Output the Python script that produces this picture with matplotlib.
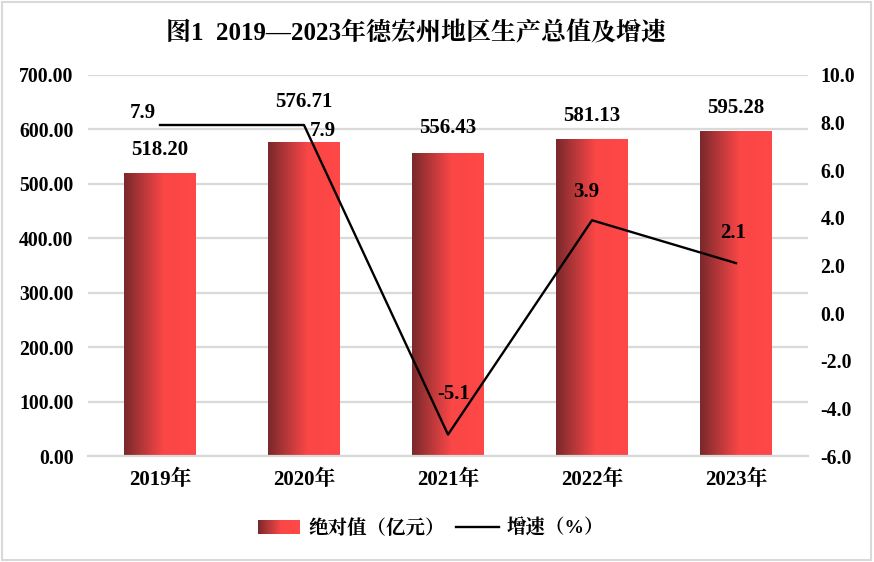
import matplotlib
matplotlib.use('Agg')
import matplotlib.pyplot as plt
import numpy as np
from matplotlib.colors import LinearSegmentedColormap
from matplotlib.legend_handler import HandlerBase
from matplotlib.patches import Rectangle
from matplotlib.lines import Line2D

plt.rcParams['font.family'] = ['Liberation Serif', 'Noto Serif CJK JP', 'DejaVu Sans']
plt.rcParams['font.weight'] = 'bold'

# data
years = ['2019年', '2020年', '2021年', '2022年', '2023年']
gdp = [518.20, 576.71, 556.43, 581.13, 595.28]          # 绝对值（亿元）
growth = [7.9, 7.9, -5.1, 3.9, 2.1]                     # 增速（%）

# label offsets in pixels (dx, dy) so they don't collide
gdp_off = [(0, 24), (0, 40), (0, 25), (0, 24), (0, 24)]
growth_off = [(-17, 12), (19, -6), (6, 41), (-6, 28), (-3, 30)]

bar_cmap = LinearSegmentedColormap.from_list(
    'barred', [(0, '#7a282b'), (0.3, '#c03a3c'), (0.55, '#fa4646'), (1, '#ff4848')])

grid_col = '#d9d9d9'
px = 72 / 100  # pixel -> points at dpi 100

fig = plt.figure(figsize=(8.74, 5.62), dpi=100)
ax = fig.add_axes([88 / 874, 1 - 456 / 562, 720 / 874, 381 / 562])
ax2 = ax.twinx()

x = np.arange(len(years))
bars = ax.bar(x, gdp, width=0.5, color='none', zorder=2)
grad = np.linspace(0, 1, 256).reshape(1, -1)
for b in bars:
    x0, y0 = b.get_x(), b.get_y()
    ax.imshow(grad, cmap=bar_cmap, aspect='auto', zorder=2,
              extent=[x0, x0 + b.get_width(), y0, y0 + b.get_height()])

ax.set_xlim(-0.5, len(years) - 0.5)
ax.set_ylim(0, 700)
ax.set_yticks(np.arange(0, 701, 100))
ax.set_yticklabels([f'{v:.2f}' for v in np.arange(0, 701, 100)])
ax.set_xticks(x)
ax.set_xticklabels(years, fontsize=15)
ax.yaxis.grid(True, color=grid_col, lw=1.6, zorder=0)
ax.set_axisbelow(True)
ax.tick_params(axis='y', length=0, pad=10.5, labelsize=14.2)
ax.tick_params(axis='x', length=0, pad=10)

for a in (ax, ax2):
    for s in a.spines.values():
        s.set_visible(False)
ax.spines['bottom'].set_visible(True)
ax.spines['bottom'].set_color(grid_col)
ax.spines['bottom'].set_linewidth(1.6)

for xi, v, (dx, dy) in zip(x, gdp, gdp_off):
    ax.annotate(f'{v:.2f}', (xi, v), xytext=(dx * px, dy * px), textcoords='offset points',
                ha='center', va='center', fontsize=15, zorder=5)

ax2.plot(x, growth, color='black', lw=1.7, zorder=3)
ax2.set_ylim(-6, 10)
ax2.set_yticks(np.arange(-6, 11, 2))
ax2.set_yticklabels([f'{v:.1f}' for v in np.arange(-6, 11, 2)])
ax2.tick_params(axis='y', length=0, pad=9, labelsize=14.2)

for xi, v, (dx, dy) in zip(x, growth, growth_off):
    ax2.annotate(f'{v:.1f}', (xi, v), xytext=(dx * px, dy * px), textcoords='offset points',
                 ha='center', va='center', fontsize=15, zorder=5)

fig.text(416.5 / 874, 1 - 32 / 562, '图1  2019—2023年德宏州地区生产总值及增速',
         ha='center', va='center', fontsize=18)


class GradientHandler(HandlerBase):
    def create_artists(self, legend, orig_handle, xdescent, ydescent, width, height, fontsize, trans):
        n = 40
        out = []
        for i in range(n):
            out.append(Rectangle((-xdescent + i * width / n, -ydescent), width / n * 1.1, height,
                                 facecolor=bar_cmap(i / (n - 1)), edgecolor='none', transform=trans))
        return out


bar_handle = Rectangle((0, 0), 1, 1)
line_handle = Line2D([0], [0], color='black', lw=1.7)
fig.legend([bar_handle, line_handle], ['绝对值（亿元）', '增速（%）'],
           handler_map={Rectangle: GradientHandler()},
           loc='center', bbox_to_anchor=(431 / 874, 1 - 528 / 562), ncol=2, frameon=False,
           fontsize=14, handlelength=2.2, handleheight=0.75, handletextpad=0.4, columnspacing=0.6)

fig.add_artist(Rectangle((0.002, 0.003), 0.995, 0.994, transform=fig.transFigure,
                         fill=False, edgecolor=grid_col, lw=1.5))

fig.savefig('out.png', dpi=100)
